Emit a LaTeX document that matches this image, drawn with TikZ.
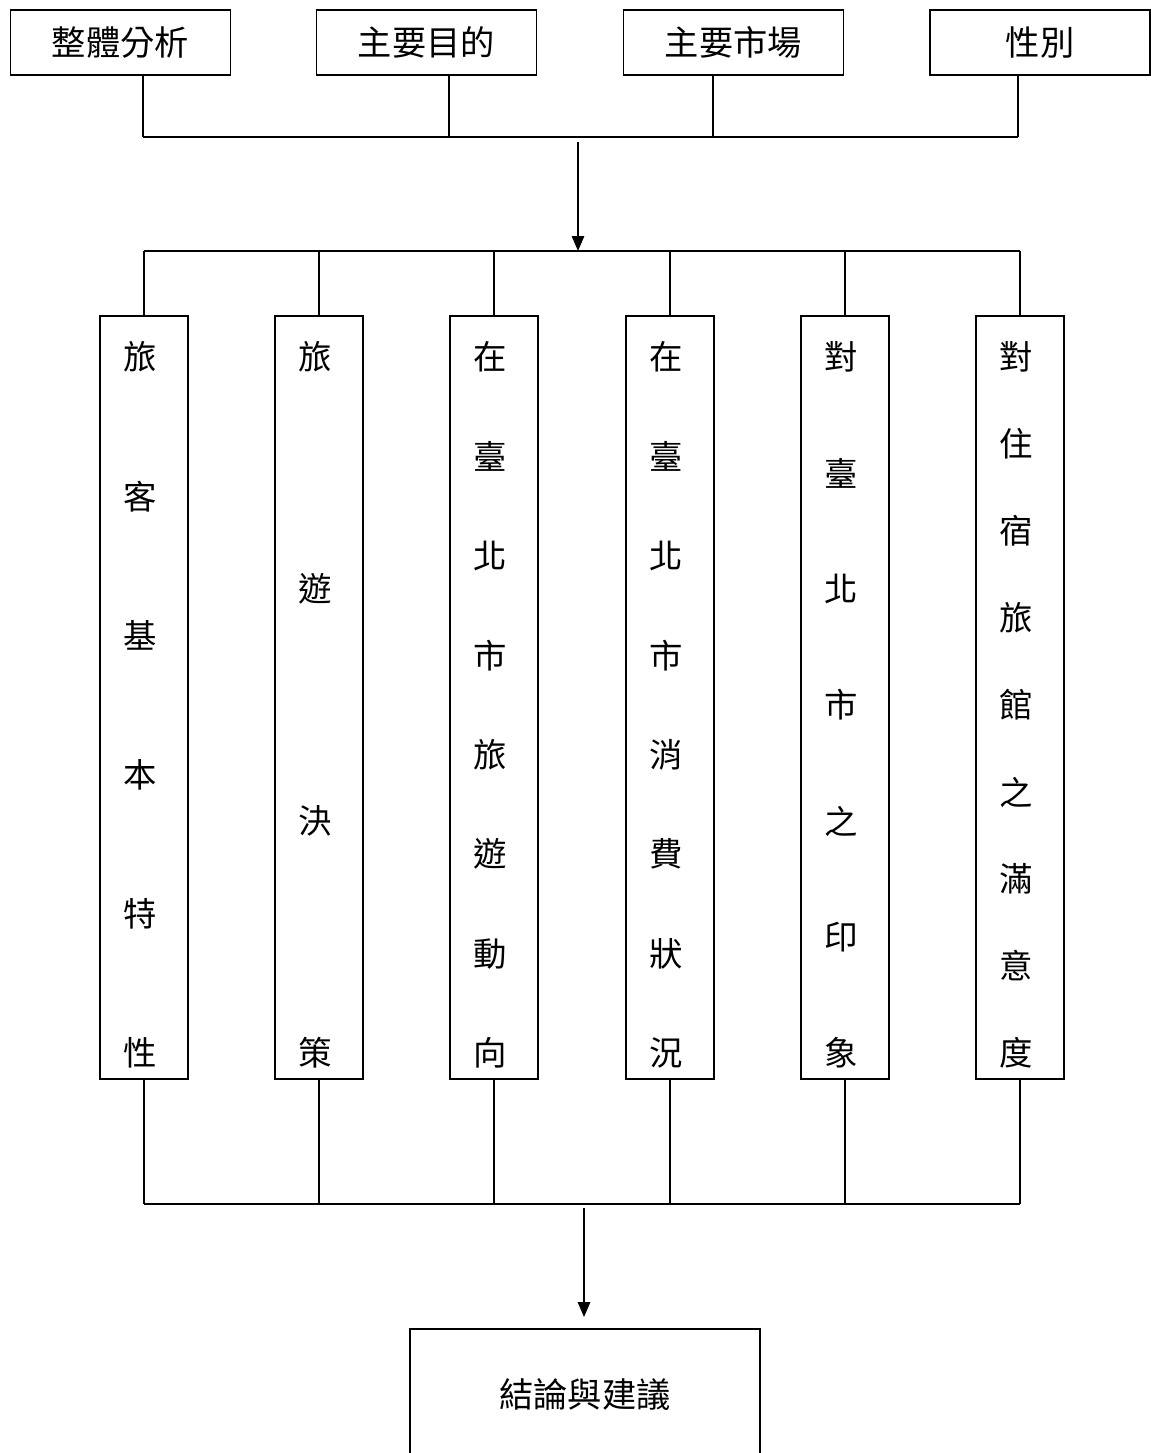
\documentclass[tikz,border=0pt]{standalone}
\usepackage{fontspec}
\setmainfont{Noto Sans CJK TC}
\usetikzlibrary{arrows.meta}

\begin{document}
\begin{tikzpicture}[x=0.02cm, y=-0.02cm, line width=1.1pt,
        >={Triangle[length=8.5pt, width=7pt]},
        topbox/.style={draw, rectangle, minimum width=4.4cm, minimum height=1.3cm, inner sep=0pt,
            font=\fontsize{19.5}{20}\selectfont},
        colbox/.style={draw, rectangle, minimum width=1.76cm, minimum height=15.26cm, inner sep=0pt},
        coltext/.style={inner sep=0pt, font=\fontsize{19}{20}\selectfont},
        endbox/.style={draw, rectangle, minimum width=7cm, minimum height=2.64cm, inner sep=0pt,
            font=\fontsize{19.5}{20}\selectfont}]

        \useasboundingbox (0, 0) rectangle (1150, 1453);

        % top row
        \node[topbox] (overall) at (120.5, 42.5) {整體分析};
        \node[topbox] (purpose) at (426.5, 42.5) {主要目的};
        \node[topbox] (market)  at (733.5, 42.5) {主要市場};
        \node[topbox] (gender)  at (1040, 42.5)  {性別};

        \coordinate (in1) at (143, 137);
        \coordinate (in2) at (449, 137);
        \coordinate (in3) at (713, 137);
        \coordinate (in4) at (1018, 137);
        \coordinate (topbus) at (578, 137);
        \coordinate (midbus) at (578, 251);

        \draw (overall.south -| in1) -- (in1);
        \draw (purpose.south -| in2) -- (in2);
        \draw (market.south -| in3) -- (in3);
        \draw (gender.south -| in4) -- (in4);
        \draw (in1) -- (in4);
        \draw [->, shorten <=0.1cm] (topbus) -- (midbus);

        % columns
        \foreach \k/\cx/\n/\chars in {1/144/6/{旅,客,基,本,特,性},
                2/319/4/{旅,遊,決,策},
                3/494/8/{在,臺,北,市,旅,遊,動,向},
                4/670/8/{在,臺,北,市,消,費,狀,況},
                5/845/7/{對,臺,北,市,之,印,象},
                6/1020/9/{對,住,宿,旅,館,之,滿,意,度}} {
            \node[colbox] (col\k) at (\cx, 697.5) {};
            \foreach \c [count=\i from 0] in \chars
                \node[coltext] (col\k-\i) at (\cx - 4, {357 + \i*696/(\n-1)}) {\c};
            \draw (col\k.north |- midbus) -- (col\k.north);
        }
        \draw (col1.north |- midbus) -- (col6.north |- midbus);

        % bottom
        \coordinate (botbus) at (584, 1204);
        \node[endbox] (result) at (585, 1395) {結論與建議};

        \foreach \k in {1, ..., 6}
            \draw (col\k.south) -- (col\k.south |- botbus);
        \draw (col1.south |- botbus) -- (col6.south |- botbus);
        \draw [->, shorten <=0.08cm, shorten >=0.22cm] (botbus) -- (result.north -| botbus);
    \end{tikzpicture}
\end{document}
